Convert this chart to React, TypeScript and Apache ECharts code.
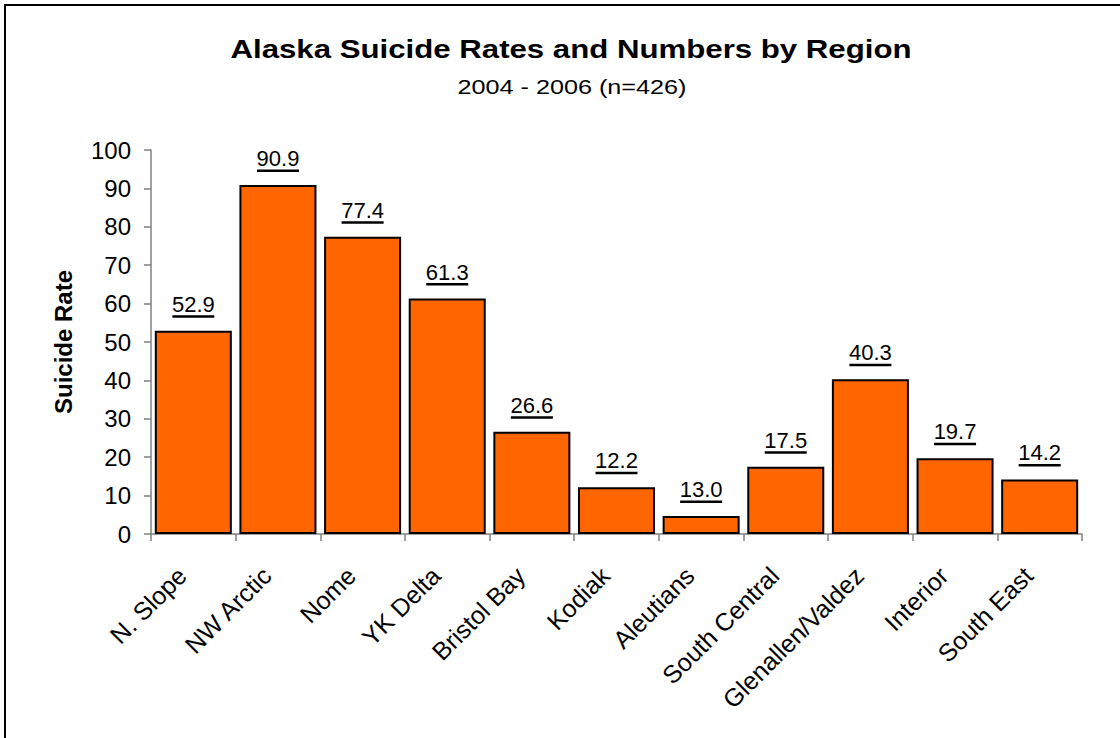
import React, { useEffect, useRef } from "react";
import * as echarts from "echarts";

const regions = [
  "N. Slope",
  "NW Arctic",
  "Nome",
  "YK Delta",
  "Bristol Bay",
  "Kodiak",
  "Aleutians",
  "South Central",
  "Glenallen/Valdez",
  "Interior",
  "South East",
];
// bar heights as drawn
const barHeights = [52.9, 90.9, 77.4, 61.3, 26.6, 12.2, 4.7, 17.5, 40.3, 19.7, 14.2];
// printed data labels
const labelTexts = ["52.9", "90.9", "77.4", "61.3", "26.6", "12.2", "13.0", "17.5", "40.3", "19.7", "14.2"];
const yTicks = { min: 0, max: 100, interval: 10 };

const titleText = "Alaska Suicide Rates and Numbers by Region";
const subtitleText = "2004 - 2006 (n=426)";
const yAxisName = "Suicide Rate";

const FONT = 'Arial, "Liberation Sans", sans-serif';

export default function App() {
  const ref = useRef<HTMLDivElement>(null);
  useEffect(() => {
    if (!ref.current) return;
    const chart = echarts.init(ref.current, null, { renderer: "svg" });
    chart.setOption({
      animation: false,
      backgroundColor: "#fff",
      graphic: [
        {
          type: "rect",
          shape: { x: 5, y: 5, width: 1130, height: 760 },
          style: { fill: "none", stroke: "#000", lineWidth: 2 },
          silent: true,
        },
        {
          type: "text",
          x: 571,
          y: 49,
          scaleX: 1.2,
          style: {
            text: titleText,
            fontFamily: FONT,
            fontSize: 26,
            fontWeight: "bold",
            fill: "#000",
            textAlign: "center",
            textVerticalAlign: "middle",
          },
        },
        {
          type: "text",
          x: 572,
          y: 87,
          scaleX: 1.2,
          style: {
            text: subtitleText,
            fontFamily: FONT,
            fontSize: 21,
            fill: "#000",
            textAlign: "center",
            textVerticalAlign: "middle",
          },
        },
      ],
      grid: { left: 151, right: 38, top: 150, bottom: 204, containLabel: false },
      xAxis: {
        type: "category",
        data: regions,
        axisLine: { lineStyle: { color: "#808080", width: 1.5 } },
        axisTick: { show: true, interval: 0, length: 7, lineStyle: { color: "#808080", width: 1.5 } },
        axisLabel: {
          interval: 0,
          rotate: 45,
          margin: 26,
          padding: [0, 16, 0, 0],
          fontFamily: FONT,
          fontSize: 25,
          color: "#000",
        },
      },
      yAxis: {
        type: "value",
        min: yTicks.min,
        max: yTicks.max,
        interval: yTicks.interval,
        name: yAxisName,
        nameLocation: "middle",
        nameRotate: 90,
        nameGap: 76,
        nameTextStyle: { fontFamily: FONT, fontSize: 24, fontWeight: "bold", color: "#000" },
        axisLine: { show: true, lineStyle: { color: "#808080", width: 1.5 } },
        axisTick: { show: true, length: 7, lineStyle: { color: "#808080", width: 1.5 } },
        axisLabel: { fontFamily: FONT, fontSize: 24, color: "#000", margin: 20 },
        splitLine: { show: false },
      },
      series: [
        {
          type: "bar",
          data: barHeights,
          barCategoryGap: "9%",
          itemStyle: { color: "#FF6600", borderColor: "#000", borderWidth: 2 },
          label: {
            show: true,
            position: "top",
            distance: 13,
            formatter: (p: any) => `{v|${labelTexts[p.dataIndex]}}\n{u| }`,
            rich: {
              v: { fontFamily: FONT, fontSize: 22, color: "#000", lineHeight: 22, align: "center" },
              u: { width: 42, height: 2.5, lineHeight: 2.5, fontSize: 1, backgroundColor: "#000", align: "center" },
            },
          },
        },
      ],
    });
    return () => chart.dispose();
  }, []);
  return (
    <div
      ref={ref}
      style={{ position: "absolute", left: 0, top: 0, width: 1120, height: 738 }}
    />
  );
}
